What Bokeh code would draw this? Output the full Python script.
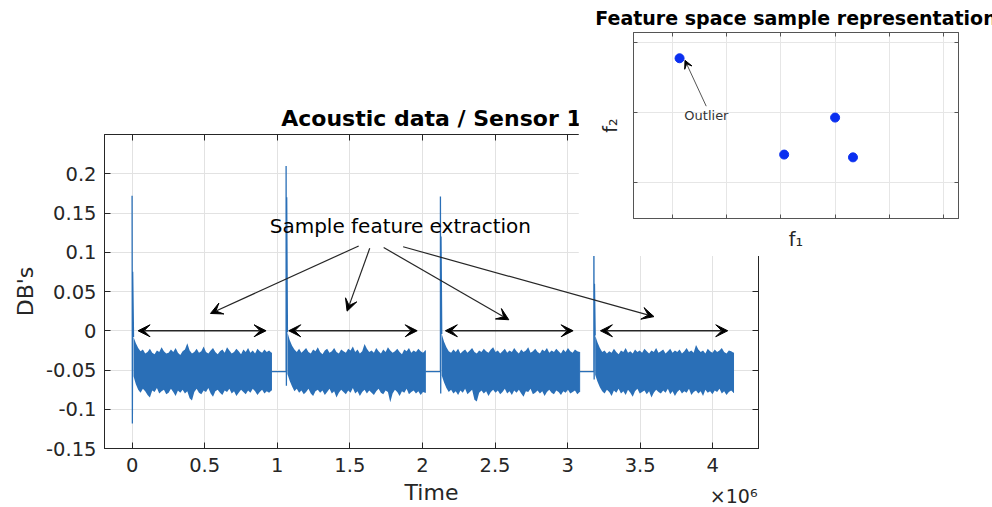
import numpy as np
from bokeh.plotting import figure
from bokeh.layouts import row
from bokeh.models import (ColumnDataSource, FixedTicker, LinearAxis, Label, Arrow,
                          VeeHead, Title, Range1d)
from bokeh.embed import file_html
from bokeh.resources import INLINE

FONT = "DejaVu Sans"

# ---------------- main chart data (time in units of 1e6) ----------------
x_ticks = [0, 0.5, 1, 1.5, 2, 2.5, 3, 3.5, 4]
x_tick_labels = ["0", "0.5", "1", "1.5", "2", "2.5", "3", "3.5", "4"]
y_ticks = [-0.15, -0.1, -0.05, 0, 0.05, 0.1, 0.15, 0.2]
y_tick_labels = ["-0.15", "-0.1", "-0.05", "0", "0.05", "0.1", "0.15", "0.2"]
x_exponent_label = "×10⁶"

spike_times = [0.0, 1.061, 2.124, 3.181]
band_starts = [0.010, 1.070, 2.133, 3.190]
band_ends = [0.960, 2.020, 3.083, 4.143]
baseline_level = -0.052
spike_peaks = [0.172, 0.210, 0.171, 0.140]
spike_troughs = [-0.118, -0.070, -0.080, -0.062]
spike_rebounds = [0.075, 0.170, 0.120, 0.060]

seg1_upper = [-0.008, -0.016, -0.022, -0.026, -0.024, -0.029, -0.027, -0.023, -0.028, -0.030,
              -0.025, -0.027, -0.021, -0.026, -0.029, -0.028, -0.024, -0.027, -0.022, -0.028,
              -0.031, -0.026, -0.024, -0.016, -0.025, -0.029, -0.027, -0.023, -0.028, -0.026,
              -0.020, -0.027, -0.029, -0.025, -0.022, -0.027, -0.030, -0.026, -0.024, -0.028,
              -0.021, -0.025, -0.029, -0.027, -0.023, -0.026, -0.030, -0.024, -0.027, -0.022,
              -0.028, -0.025, -0.029, -0.023, -0.026, -0.028, -0.024, -0.027, -0.025, -0.028]
seg1_lower = [-0.058, -0.068, -0.075, -0.079, -0.074, -0.077, -0.082, -0.085, -0.076, -0.078,
              -0.073, -0.080, -0.077, -0.075, -0.081, -0.079, -0.074, -0.078, -0.083, -0.076,
              -0.079, -0.075, -0.080, -0.077, -0.086, -0.089, -0.078, -0.074, -0.079, -0.081,
              -0.076, -0.078, -0.073, -0.080, -0.084, -0.077, -0.075, -0.079, -0.082, -0.076,
              -0.078, -0.074, -0.080, -0.077, -0.083, -0.079, -0.075, -0.078, -0.081, -0.076,
              -0.079, -0.074, -0.077, -0.082, -0.078, -0.075, -0.080, -0.077, -0.079, -0.076]
seg2_upper = [-0.002, -0.012, -0.019, -0.024, -0.027, -0.023, -0.028, -0.025, -0.022, -0.027,
              -0.029, -0.024, -0.026, -0.021, -0.027, -0.030, -0.025, -0.023, -0.028, -0.026,
              -0.022, -0.027, -0.029, -0.024, -0.026, -0.028, -0.023, -0.025, -0.020, -0.027,
              -0.024, -0.029, -0.026, -0.017, -0.023, -0.027, -0.025, -0.028, -0.022, -0.026,
              -0.029, -0.024, -0.027, -0.021, -0.025, -0.028, -0.026, -0.023, -0.027, -0.030,
              -0.024, -0.026, -0.022, -0.028, -0.025, -0.027, -0.023, -0.026, -0.028, -0.025]
seg2_lower = [-0.055, -0.064, -0.071, -0.077, -0.074, -0.079, -0.076, -0.081, -0.078, -0.074,
              -0.080, -0.083, -0.077, -0.075, -0.079, -0.076, -0.082, -0.078, -0.074, -0.080,
              -0.077, -0.085, -0.079, -0.075, -0.078, -0.081, -0.076, -0.079, -0.073, -0.080,
              -0.077, -0.083, -0.078, -0.075, -0.080, -0.076, -0.079, -0.082, -0.077, -0.074,
              -0.079, -0.081, -0.076, -0.078, -0.091, -0.080, -0.075, -0.078, -0.083, -0.077,
              -0.079, -0.074, -0.081, -0.078, -0.076, -0.080, -0.077, -0.082, -0.078, -0.079]
seg3_upper = [-0.004, -0.014, -0.021, -0.026, -0.028, -0.024, -0.027, -0.023, -0.029, -0.026,
              -0.024, -0.028, -0.025, -0.022, -0.027, -0.029, -0.025, -0.027, -0.023, -0.026,
              -0.028, -0.024, -0.021, -0.027, -0.025, -0.029, -0.026, -0.023, -0.028, -0.025,
              -0.027, -0.022, -0.026, -0.029, -0.024, -0.027, -0.025, -0.021, -0.028, -0.026,
              -0.023, -0.027, -0.029, -0.024, -0.026, -0.022, -0.028, -0.025, -0.027, -0.023,
              -0.026, -0.029, -0.024, -0.027, -0.022, -0.026, -0.028, -0.024, -0.026, -0.027]
seg3_lower = [-0.057, -0.066, -0.073, -0.078, -0.075, -0.080, -0.077, -0.082, -0.076, -0.079,
              -0.074, -0.081, -0.078, -0.075, -0.088, -0.090, -0.079, -0.076, -0.080, -0.077,
              -0.083, -0.078, -0.075, -0.079, -0.076, -0.081, -0.078, -0.074, -0.080, -0.077,
              -0.082, -0.076, -0.079, -0.075, -0.080, -0.084, -0.077, -0.078, -0.074, -0.081,
              -0.079, -0.076, -0.080, -0.077, -0.083, -0.078, -0.075, -0.079, -0.081, -0.076,
              -0.078, -0.082, -0.077, -0.079, -0.075, -0.080, -0.078, -0.076, -0.081, -0.078]
seg4_upper = [-0.006, -0.015, -0.022, -0.027, -0.025, -0.029, -0.026, -0.028, -0.023, -0.027,
              -0.030, -0.025, -0.027, -0.022, -0.028, -0.026, -0.029, -0.024, -0.027, -0.025,
              -0.028, -0.023, -0.026, -0.029, -0.025, -0.027, -0.022, -0.028, -0.026, -0.024,
              -0.029, -0.026, -0.023, -0.028, -0.025, -0.027, -0.024, -0.029, -0.026, -0.022,
              -0.027, -0.025, -0.028, -0.018, -0.024, -0.027, -0.025, -0.029, -0.023, -0.026,
              -0.028, -0.024, -0.027, -0.025, -0.022, -0.027, -0.029, -0.025, -0.026, -0.028]
seg4_lower = [-0.056, -0.065, -0.072, -0.077, -0.080, -0.075, -0.078, -0.083, -0.076, -0.079,
              -0.074, -0.080, -0.077, -0.082, -0.075, -0.079, -0.084, -0.077, -0.074, -0.080,
              -0.078, -0.076, -0.081, -0.077, -0.085, -0.079, -0.075, -0.078, -0.080, -0.076,
              -0.079, -0.074, -0.081, -0.077, -0.083, -0.078, -0.075, -0.080, -0.077, -0.079,
              -0.074, -0.082, -0.078, -0.076, -0.080, -0.077, -0.083, -0.075, -0.079, -0.077,
              -0.081, -0.076, -0.078, -0.074, -0.080, -0.077, -0.082, -0.078, -0.076, -0.079]
uppers = [seg1_upper, seg2_upper, seg3_upper, seg4_upper]
lowers = [seg1_lower, seg2_lower, seg3_lower, seg4_lower]

# extraction window arrows (double headed, at level 0)
window_x0 = [0.041, 1.079, 2.158, 3.226]
window_x1 = [0.923, 1.964, 3.038, 4.103]
window_y = [0.0, 0.0, 0.0, 0.0]
# pointer arrows from the annotation text
ptr_x0 = [1.561, 1.637, 1.733, 1.867]
ptr_y0 = [0.108, 0.105, 0.106, 0.107]
ptr_x1 = [0.540, 1.481, 2.595, 3.595]
ptr_y1 = [0.022, 0.025, 0.014, 0.018]

# ---------------- inset data ----------------
f1_vals = [1.13, 4.00, 3.06, 4.33]
f2_vals = [2.78, 1.93, 1.40, 1.36]
f1_ticks = [1, 2, 3, 4, 5, 6]
f2_ticks = [1, 2, 3]

SIG = "#2a6fb7"
AX = "#262626"

# ================= main figure =================
p = figure(width=992, height=507, x_range=Range1d(-0.19, 4.315), y_range=Range1d(-0.15, 0.25),
           output_backend="svg", toolbar_location=None, title=None,
           min_border_left=104, min_border_right=234, min_border_top=134, min_border_bottom=58,
           x_axis_label="Time", y_axis_label="DB's")
p.frame_align = False
p.border_fill_color = "white"
p.background_fill_color = "white"
p.outline_line_color = AX

for ax, ticks, labels in ((p.xaxis[0], x_ticks, x_tick_labels), (p.yaxis[0], y_ticks, y_tick_labels)):
    ax.ticker = FixedTicker(ticks=ticks)
    ax.major_label_overrides = dict(zip(ticks, labels))
    ax.major_tick_in = 6
    ax.major_tick_out = 0
    ax.minor_tick_line_color = None
    ax.axis_line_color = AX
    ax.major_tick_line_color = AX
    ax.major_label_text_font = FONT
    ax.major_label_text_font_size = "19.5px"
    ax.major_label_text_color = AX
    ax.axis_label_text_font = FONT
    ax.axis_label_text_font_size = "22px"
    ax.axis_label_text_font_style = "normal"
    ax.axis_label_text_color = AX
p.xaxis[0].major_label_standoff = 9
p.xaxis[0].axis_label_standoff = 5
p.yaxis[0].major_label_standoff = 8
p.yaxis[0].axis_label_standoff = 5

for loc, ticks in (("above", x_ticks), ("right", y_ticks)):
    a = LinearAxis(ticker=FixedTicker(ticks=ticks), major_label_text_font_size="1px",
                   major_label_text_color=None, major_label_standoff=0,
                   major_tick_in=6, major_tick_out=0,
                   minor_tick_line_color=None, axis_line_color=AX, major_tick_line_color=AX)
    p.add_layout(a, loc)

p.add_layout(Title(text="Acoustic data / Sensor 1", align="center", text_font=FONT,
                   text_font_size="22px", text_font_style="bold", text_color="black",
                   standoff=7), "above")

p.xgrid.ticker = FixedTicker(ticks=x_ticks)
p.ygrid.ticker = FixedTicker(ticks=y_ticks)
p.grid.grid_line_color = "#e2e2e2"
p.grid.grid_line_width = 1

# signal: noise bands + spikes + connecting baseline
for i in range(4):
    bx = np.linspace(band_starts[i], band_ends[i], len(uppers[i]))
    p.varea(x=bx, y1=lowers[i], y2=uppers[i], fill_color=SIG)
    t = spike_times[i]
    lx, ly = [], []
    if i > 0:
        lx += [band_ends[i - 1], t]
        ly += [baseline_level, baseline_level]
    lx += [t, t + 0.002, t + 0.004, band_starts[i]]
    ly += [spike_peaks[i], spike_troughs[i], spike_rebounds[i], uppers[i][0]]
    p.line(lx, ly, line_color=SIG, line_width=1.3)
    p.line([band_ends[i], band_ends[i]], [lowers[i][-1], uppers[i][-1]], line_color=SIG, line_width=1)

win_src = ColumnDataSource(dict(x0=window_x0, x1=window_x1, y=window_y))
p.add_layout(Arrow(source=win_src, x_start="x0", y_start="y", x_end="x1", y_end="y",
                   start=VeeHead(size=12, fill_color="black", line_color="black", line_width=1),
                   end=VeeHead(size=12, fill_color="black", line_color="black", line_width=1),
                   line_color=AX, line_width=1.3))
ptr_src = ColumnDataSource(dict(x0=ptr_x0, y0=ptr_y0, x1=ptr_x1, y1=ptr_y1))
p.add_layout(Arrow(source=ptr_src, x_start="x0", y_start="y0", x_end="x1", y_end="y1",
                   end=VeeHead(size=12, fill_color="black", line_color="black", line_width=1),
                   line_color=AX, line_width=1.2))

p.add_layout(Label(x=1.848, y=0.1331, text="Sample feature extraction", text_align="center",
                   text_baseline="middle", text_font=FONT, text_font_size="20px",
                   text_color="black"))

# ================= inset figure (occupies x 578..992, y 0..256) =================
IAX = "#555555"
q = figure(width=414, height=256, x_range=Range1d(0.28, 6.277), y_range=Range1d(0.484, 3.149),
           output_backend="svg", toolbar_location=None, title=None,
           min_border_left=55, min_border_right=34, min_border_top=32, min_border_bottom=38,
           x_axis_label="f₁", y_axis_label="f₂")
q.frame_align = False
q.margin = (0, 0, 0, -414)
q.border_fill_color = "white"
q.background_fill_color = "white"
q.outline_line_color = IAX
for ax, ticks in ((q.xaxis[0], f1_ticks), (q.yaxis[0], f2_ticks)):
    ax.ticker = FixedTicker(ticks=ticks)
    ax.major_label_text_font_size = "1px"
    ax.major_label_text_color = None
    ax.major_label_standoff = 0
    ax.major_tick_in = 4
    ax.major_tick_out = 0
    ax.minor_tick_line_color = None
    ax.axis_line_color = IAX
    ax.major_tick_line_color = IAX
    ax.axis_label_text_font = FONT
    ax.axis_label_text_font_size = "19px"
    ax.axis_label_text_font_style = "normal"
    ax.axis_label_text_color = AX
q.xaxis[0].axis_label_standoff = 9
q.yaxis[0].axis_label_standoff = 13
for loc, ticks in (("above", f1_ticks), ("right", f2_ticks)):
    a = LinearAxis(ticker=FixedTicker(ticks=ticks), major_label_text_font_size="1px",
                   major_label_text_color=None, major_label_standoff=0,
                   major_tick_in=4, major_tick_out=0,
                   minor_tick_line_color=None, axis_line_color=IAX, major_tick_line_color=IAX)
    q.add_layout(a, loc)
q.add_layout(Title(text="Feature space sample representation", align="center", text_font=FONT,
                   text_font_size="19px", text_font_style="bold", text_color="black",
                   standoff=7), "above")
q.xgrid.ticker = FixedTicker(ticks=f1_ticks)
q.ygrid.ticker = FixedTicker(ticks=f2_ticks)
q.grid.grid_line_color = "#e6e6e6"

q.scatter(f1_vals, f2_vals, size=9, fill_color="#0a2ff0", line_color="#0a2ff0")
q.add_layout(Arrow(x_start=1.622, y_start=2.093, x_end=f1_vals[0] + 0.1, y_end=f2_vals[0] - 0.03,
                   end=VeeHead(size=8, fill_color="black", line_color="black", line_width=1),
                   line_color=IAX, line_width=1))
q.add_layout(Label(x=1.218, y=1.954, text="Outlier", text_baseline="middle", text_font=FONT,
                   text_font_size="13px", text_color="#333333"))

# ================= exponent marker for the time axis (x 690..760, y 447..507) =================
r = figure(width=70, height=60, x_range=Range1d(0, 70), y_range=Range1d(0, 60),
           output_backend="svg", toolbar_location=None, title=None,
           min_border=0, x_axis_location=None, y_axis_location=None)
r.frame_align = False
r.margin = (447, 232, 0, -302)
r.grid.visible = False
r.outline_line_color = None
r.border_fill_alpha = 0
r.background_fill_alpha = 0
r.add_layout(Label(x=67, y=12, text=x_exponent_label, text_align="right",
                   text_baseline="middle", text_font=FONT, text_font_size="19px",
                   text_color=AX))

layout = row(p, q, r)
layout.spacing = 0

open("out.html", "w").write(file_html(layout, INLINE))
